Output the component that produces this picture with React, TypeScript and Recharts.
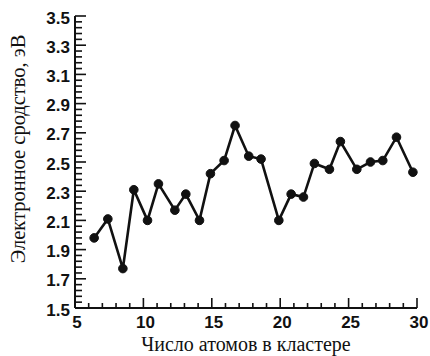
import React from 'react';
import { LineChart, Line, XAxis, YAxis } from 'recharts';

const atomCounts = [6.4, 7.4, 8.5, 9.3, 10.3, 11.1, 12.3, 13.1, 14.1, 14.9, 15.9, 16.7, 17.7, 18.6, 19.9, 20.8, 21.7, 22.5, 23.6, 24.4, 25.6, 26.6, 27.5, 28.5, 29.7];
const affinity = [1.98, 2.11, 1.77, 2.31, 2.10, 2.35, 2.17, 2.28, 2.10, 2.42, 2.51, 2.75, 2.54, 2.52, 2.10, 2.28, 2.26, 2.49, 2.45, 2.64, 2.45, 2.50, 2.51, 2.67, 2.43];

const xMajorTicks = [5, 10, 15, 20, 25, 30];
const yMajorTicks = [1.5, 1.7, 1.9, 2.1, 2.3, 2.5, 2.7, 2.9, 3.1, 3.3, 3.5];
const yTickLabels = ['1.5', '1.7', '1.9', '2.1', '2.3', '2.5', '2.7', '2.9', '3.1', '3.3', '3.5'];
const xTitle = 'Число атомов в кластере';
const yTitle = 'Электронное сродство, эВ';

const xMinorTicks: number[] = [];
for (let v = xMajorTicks[0]; v <= xMajorTicks[xMajorTicks.length - 1]; v += 1) xMinorTicks.push(v);
const yMinorTicks: number[] = [];
for (let i = 0; i < yMajorTicks.length - 1; i++) {
  for (let k = 0; k < 5; k++) yMinorTicks.push(Math.round((yMajorTicks[i] + (k * (yMajorTicks[i + 1] - yMajorTicks[i])) / 5) * 1000) / 1000);
}
yMinorTicks.push(yMajorTicks[yMajorTicks.length - 1]);

const data = atomCounts.map((x, i) => ({ x, y: affinity[i] }));

const TICK_FONT = '"Liberation Sans", Arial, sans-serif';
const TITLE_FONT = '"Liberation Serif", "Times New Roman", serif';

const isMajorX = (v: number) => xMajorTicks.includes(v);
const majorYIndex = (v: number) => yMajorTicks.findIndex((m) => Math.abs(m - v) < 1e-6);

const BottomTick = (props: any) => {
  const { x, y, payload } = props;
  const major = isMajorX(payload.value);
  return (
    <g>
      <line x1={x} x2={x} y1={y} y2={y - (major ? 10 : 5)} stroke="#111" strokeWidth={1.6} />
      {major && (
        <text x={x + 2} y={y + 14} textAnchor="middle" dominantBaseline="central" fontFamily={TICK_FONT} fontWeight="bold" fontSize={17} fill="#111">
          {payload.value}
        </text>
      )}
    </g>
  );
};

const TopTick = (props: any) => {
  const { x, y, payload } = props;
  const major = isMajorX(payload.value);
  return <line x1={x} x2={x} y1={y} y2={y + (major ? 9 : 6)} stroke="#111" strokeWidth={1.6} />;
};

const LeftTick = (props: any) => {
  const { x, y, payload } = props;
  const idx = majorYIndex(payload.value);
  const major = idx >= 0;
  return (
    <g>
      <line x1={x} x2={x + (major ? 11 : 7)} y1={y} y2={y} stroke="#111" strokeWidth={1.6} />
      {major && (
        <text x={x - 5} y={y + 2} textAnchor="end" dominantBaseline="central" fontFamily={TICK_FONT} fontWeight="bold" fontSize={17} fill="#111">
          {yTickLabels[idx]}
        </text>
      )}
    </g>
  );
};

const RightTick = (props: any) => {
  const { x, y, payload } = props;
  const major = majorYIndex(payload.value) >= 0;
  return <line x1={x} x2={x - (major ? 10 : 6)} y1={y} y2={y} stroke="#111" strokeWidth={1.6} />;
};

const XTitle = (props: any) => {
  const { viewBox } = props;
  const cx = viewBox.x + viewBox.width / 2;
  const cy = viewBox.y + 36;
  return (
    <text x={cx} y={cy} textAnchor="middle" dominantBaseline="central" fontFamily={TITLE_FONT} fontSize={20} fill="#111">
      {xTitle}
    </text>
  );
};

const YTitle = (props: any) => {
  const { viewBox } = props;
  const cx = viewBox.x + 3;
  const cy = viewBox.y + viewBox.height / 2 - 13;
  return (
    <text x={cx} y={cy} transform={`rotate(-90, ${cx}, ${cy})`} textAnchor="middle" dominantBaseline="central" fontFamily={TITLE_FONT} fontSize={20.5} fill="#111">
      {yTitle}
    </text>
  );
};

export default function App() {
  return (
    <div style={{ position: 'absolute', left: 0, top: 0, width: 430, height: 356, background: '#fff' }}>
      <LineChart width={430} height={356} data={data} margin={{ top: 16, right: 13, bottom: 18, left: 15 }}>
        <XAxis
          xAxisId="bottom"
          dataKey="x"
          type="number"
          orientation="bottom"
          domain={[5, 30]}
          ticks={xMinorTicks}
          interval={0}
          height={30}
          tickSize={0}
          tickMargin={0}
          tickLine={false}
          axisLine={{ stroke: '#111', strokeWidth: 2 }}
          tick={BottomTick}
          label={{ content: XTitle }}
        />
        <XAxis
          xAxisId="top"
          dataKey="x"
          type="number"
          orientation="top"
          domain={[5, 30]}
          ticks={xMinorTicks}
          interval={0}
          height={0}
          tickSize={0}
          tickMargin={0}
          tickLine={false}
          axisLine={{ stroke: '#111', strokeWidth: 2 }}
          tick={TopTick}
        />
        <YAxis
          yAxisId="left"
          type="number"
          orientation="left"
          domain={[1.5, 3.5]}
          ticks={yMinorTicks}
          interval={0}
          width={60}
          tickSize={0}
          tickMargin={0}
          tickLine={false}
          axisLine={{ stroke: '#111', strokeWidth: 2 }}
          tick={LeftTick}
          label={{ content: YTitle }}
        />
        <YAxis
          yAxisId="right"
          type="number"
          orientation="right"
          domain={[1.5, 3.5]}
          ticks={yMinorTicks}
          interval={0}
          width={0}
          tickSize={0}
          tickMargin={0}
          tickLine={false}
          axisLine={{ stroke: '#111', strokeWidth: 2 }}
          tick={RightTick}
        />
        <Line
          xAxisId="bottom"
          yAxisId="left"
          dataKey="y"
          type="linear"
          stroke="#111"
          strokeWidth={2.6}
          dot={{ r: 4.3, fill: '#111', stroke: '#111', strokeWidth: 1 }}
          isAnimationActive={false}
        />
      </LineChart>
    </div>
  );
}
